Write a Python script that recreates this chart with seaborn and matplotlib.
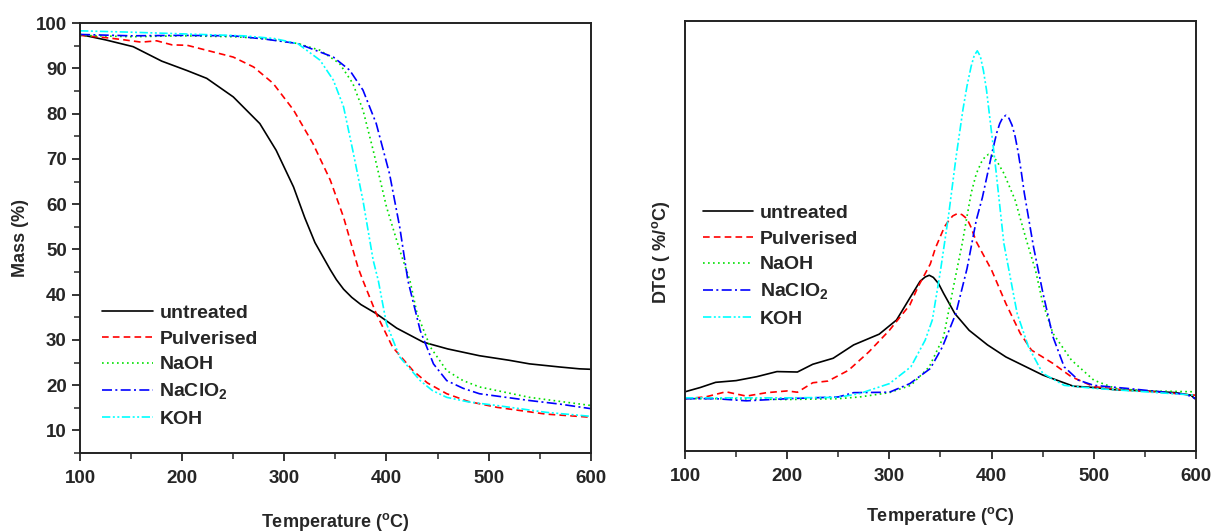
import numpy as np
import pandas as pd
import matplotlib
matplotlib.use("Agg")
import matplotlib.pyplot as plt
from matplotlib.ticker import MultipleLocator
import seaborn as sns

# TGA (mass %) readings
tga_untreated_t = [100, 125, 152, 180, 205, 224, 250, 276, 292, 309, 320, 330, 338, 345, 351, 358, 366, 375, 390, 410, 436, 460, 491, 520, 540, 570, 589, 600]
tga_untreated_m = [97.5, 96.3, 94.8, 91.6, 89.5, 87.8, 83.7, 77.8, 71.9, 63.8, 57.0, 51.5, 48.3, 45.5, 43.3, 41.2, 39.4, 37.8, 35.8, 32.6, 29.5, 28.0, 26.5, 25.5, 24.7, 24.0, 23.6, 23.5]
tga_pulv_t = [100, 125, 140, 160, 175, 190, 205, 224, 250, 270, 289, 309, 328, 345, 358, 372, 377, 390, 406, 426, 440, 459, 480, 508, 556, 600]
tga_pulv_m = [97.3, 96.8, 96.4, 95.8, 96.1, 95.2, 95.1, 94.0, 92.5, 90.3, 86.7, 80.8, 73.4, 65.3, 57.1, 46.1, 43.1, 35.8, 28.4, 23.2, 20.5, 18.1, 16.4, 15.1, 13.6, 12.9]
tga_naoh_t = [100, 150, 200, 250, 280, 313, 335, 354, 367, 377, 387, 400, 413, 423, 430, 443, 459, 475, 491, 540, 600]
tga_naoh_m = [97.3, 97.0, 97.2, 97.0, 96.6, 95.5, 94.0, 91.1, 86.7, 80.8, 71.9, 59.4, 49.8, 43.1, 35.8, 28.4, 23.2, 21.0, 19.6, 17.3, 15.5]
tga_naclo2_t = [100, 150, 200, 250, 280, 313, 348, 364, 377, 390, 403, 413, 421, 433, 446, 459, 475, 491, 540, 570, 600]
tga_naclo2_m = [97.5, 97.2, 97.3, 97.2, 96.5, 95.5, 92.5, 89.6, 85.2, 77.8, 66.7, 54.9, 43.1, 32.1, 24.7, 21.0, 19.3, 18.1, 16.6, 15.8, 14.8]
tga_koh_t = [100, 150, 218, 260, 290, 313, 335, 348, 358, 367, 377, 387, 392, 400, 413, 433, 445, 459, 480, 508, 556, 600]
tga_koh_m = [98.3, 98.0, 97.5, 97.2, 96.6, 95.5, 91.8, 87.4, 81.5, 71.9, 60.8, 47.6, 43.1, 33.6, 26.2, 21.0, 18.8, 17.3, 16.3, 15.5, 14.0, 13.1]

# DTG readings (arbitrary units, axis has no tick labels)
dtg_untreated_t = [100, 115, 130, 150, 170, 190, 210, 225, 245, 265, 290, 307, 321, 330, 335, 339, 343, 348, 353, 364, 378, 396, 414, 450, 480, 500, 520, 550, 580, 595, 600]
dtg_untreated_v = [1.38, 1.48, 1.60, 1.64, 1.73, 1.85, 1.84, 2.02, 2.16, 2.47, 2.72, 3.05, 3.60, 3.95, 4.05, 4.09, 4.04, 3.90, 3.67, 3.20, 2.81, 2.47, 2.19, 1.77, 1.51, 1.48, 1.43, 1.40, 1.36, 1.30, 1.20]
dtg_pulv_t = [100, 120, 140, 160, 180, 200, 210, 225, 240, 260, 280, 300, 320, 328, 340, 345, 350, 354, 358, 362, 367, 371, 376, 380, 385, 400, 414, 428, 439, 460, 478, 500, 530, 560, 600]
dtg_pulv_v = [1.22, 1.26, 1.38, 1.28, 1.36, 1.40, 1.37, 1.59, 1.63, 1.88, 2.31, 2.81, 3.40, 3.82, 4.35, 4.72, 5.00, 5.22, 5.36, 5.47, 5.53, 5.50, 5.40, 5.20, 4.87, 4.21, 3.43, 2.74, 2.35, 2.04, 1.73, 1.50, 1.42, 1.38, 1.30]
dtg_naoh_t = [100, 150, 200, 250, 271, 300, 321, 339, 353, 364, 371, 380, 385, 390, 394, 397, 401, 405, 412, 423, 434, 443, 450, 460, 478, 500, 521, 550, 600]
dtg_naoh_v = [1.22, 1.22, 1.20, 1.22, 1.26, 1.36, 1.53, 1.96, 2.66, 3.98, 4.80, 6.00, 6.45, 6.72, 6.86, 6.90, 6.86, 6.75, 6.46, 5.84, 4.91, 4.20, 3.45, 2.74, 2.12, 1.65, 1.46, 1.40, 1.38]
dtg_naclo2_t = [100, 130, 160, 200, 250, 265, 300, 320, 340, 352, 365, 376, 385, 391, 401, 405, 408, 411, 414, 417, 420, 423, 426, 429, 432, 441, 450, 460, 471, 485, 500, 532, 557, 590, 600]
dtg_naclo2_v = [1.22, 1.22, 1.17, 1.22, 1.26, 1.36, 1.37, 1.57, 1.92, 2.43, 3.20, 4.25, 5.37, 5.90, 7.00, 7.40, 7.62, 7.76, 7.81, 7.74, 7.58, 7.32, 6.95, 6.50, 6.00, 4.75, 3.70, 2.66, 1.96, 1.65, 1.53, 1.46, 1.40, 1.32, 1.22]
dtg_koh_t = [100, 150, 200, 250, 271, 300, 321, 335, 342, 350, 358, 365, 372, 376, 380, 383, 386, 389, 392, 395, 403, 412, 425, 436, 450, 471, 500, 550, 600]
dtg_koh_v = [1.24, 1.24, 1.24, 1.25, 1.34, 1.57, 1.96, 2.58, 3.05, 4.20, 5.50, 6.80, 7.95, 8.50, 8.95, 9.20, 9.31, 9.18, 8.85, 8.40, 6.80, 4.83, 3.20, 2.43, 1.81, 1.53, 1.46, 1.38, 1.30]

labels = ["untreated", "Pulverised", "NaOH", r"NaClO$_{\mathbf{2}}$", "KOH"]
colors = ["black", "#ff0000", "#00e000", "#0000ff", "#00ffff"]
styles = ["-", (0, (4, 2.5)), (0, (1, 2)), (0, (6, 2, 1.2, 2)), (0, (5, 1.5, 1.2, 1.5, 1.2, 1.5))]

tga = [(tga_untreated_t, tga_untreated_m), (tga_pulv_t, tga_pulv_m), (tga_naoh_t, tga_naoh_m),
       (tga_naclo2_t, tga_naclo2_m), (tga_koh_t, tga_koh_m)]
dtg = [(dtg_untreated_t, dtg_untreated_v), (dtg_pulv_t, dtg_pulv_v), (dtg_naoh_t, dtg_naoh_v),
       (dtg_naclo2_t, dtg_naclo2_v), (dtg_koh_t, dtg_koh_v)]

sns.set_style("ticks")
plt.rcParams['font.family'] = ['Liberation Sans', 'DejaVu Sans']
plt.rcParams['font.weight'] = 'bold'
plt.rcParams['axes.labelweight'] = 'bold'
plt.rcParams['mathtext.fontset'] = 'custom'
plt.rcParams['mathtext.rm'] = 'Liberation Sans'
plt.rcParams['mathtext.bf'] = 'Liberation Sans:bold'
plt.rcParams['axes.edgecolor'] = '#222222'
plt.rcParams['axes.linewidth'] = 1.4

fig = plt.figure(figsize=(12.13, 5.32), dpi=100)
ax1 = fig.add_axes([0.066, 0.1485, 0.421, 0.808])
ax2 = fig.add_axes([0.5647, 0.152, 0.4213, 0.8083])

for (t, m), lab, c, ls in zip(tga, labels, colors, styles):
    sns.lineplot(x=t, y=m, ax=ax1, color=c, linestyle=ls, linewidth=1.2, label=lab)
for (t, v), lab, c, ls in zip(dtg, labels, colors, styles):
    sns.lineplot(x=t, y=v, ax=ax2, color=c, linestyle=ls, linewidth=1.2, label=lab)

xlab = r"Temperature ($^{\mathbf{o}}$C)"

ax1.set_xlim(100, 600)
ax1.set_ylim(5, 100)
ax1.xaxis.set_major_locator(MultipleLocator(100))
ax1.xaxis.set_minor_locator(MultipleLocator(50))
ax1.yaxis.set_major_locator(MultipleLocator(10))
ax1.yaxis.set_minor_locator(MultipleLocator(5))
ax1.set_xlabel(xlab, fontsize=13)
ax1.set_ylabel("Mass (%)", fontsize=13)
ax1.xaxis.set_label_coords(0.5, -0.135)
ax1.yaxis.set_label_coords(-0.10, 0.5)

ax2.set_xlim(100, 600)
ax2.set_ylim(0, 10)
ax2.xaxis.set_major_locator(MultipleLocator(100))
ax2.xaxis.set_minor_locator(MultipleLocator(50))
ax2.set_yticks([])
ax2.set_xlabel(xlab, fontsize=13)
ax2.set_ylabel(r"DTG ( %/$^{\mathbf{o}}$C)", fontsize=13)
ax2.xaxis.set_label_coords(0.5, -0.126)
ax2.yaxis.set_label_coords(-0.025, 0.463)

for ax in (ax1, ax2):
    for s in ax.spines.values():
        s.set_visible(True)
    ax.tick_params(which='major', direction='out', length=6, width=1.3, labelsize=13.5)
    ax.tick_params(axis='x', which='major', pad=6)
    ax.tick_params(which='minor', direction='out', length=4, width=1.1)
    for lbl in ax.get_xticklabels() + ax.get_yticklabels():
        lbl.set_fontweight('bold')

leg_kw = dict(loc='upper left', frameon=False, fontsize=14, handlelength=2.6,
              handletextpad=0.35, labelspacing=0.42, borderaxespad=0, borderpad=0)
ax1.legend(bbox_to_anchor=(0.043, 0.346), **leg_kw)
ax2.legend(bbox_to_anchor=(0.035, 0.574), **leg_kw)

fig.savefig("out.png", dpi=100)
